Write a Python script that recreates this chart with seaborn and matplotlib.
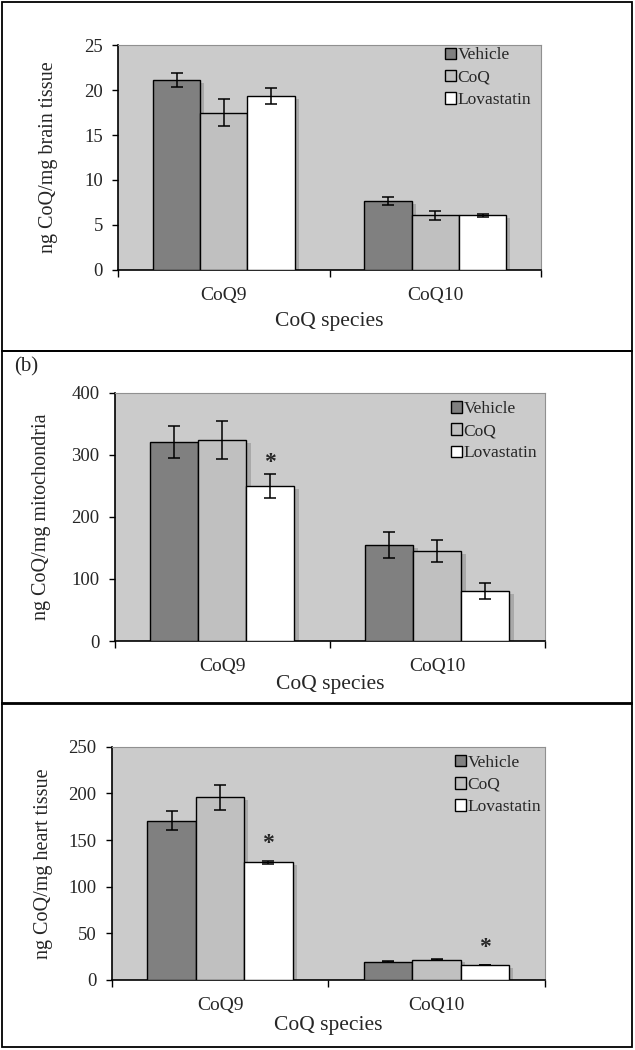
import numpy as np
import pandas as pd
import seaborn as sns
import matplotlib.pyplot as plt
from matplotlib.patches import Rectangle
from matplotlib.transforms import ScaledTranslation

# categories
species = ["CoQ9", "CoQ10"]
groups = ["Vehicle", "CoQ", "Lovastatin"]
colors = ["#808080", "#c0c0c0", "#ffffff"]

# rows: Vehicle, CoQ, Lovastatin ; columns: CoQ9, CoQ10
brain_mean = [[21.1, 7.65], [17.5, 6.05], [19.3, 6.05]]
brain_err = [[0.8, 0.4], [1.5, 0.5], [0.9, 0.15]]
brain_star = [[0, 0], [0, 0], [0, 0]]

mito_mean = [[321, 155], [324, 145], [250, 81]]
mito_err = [[26, 21], [30, 18], [19, 13]]
mito_star = [[0, 0], [0, 0], [1, 0]]

heart_mean = [[171, 19.7], [196, 21.9], [126, 16.1]]
heart_err = [[10, 0.4], [13.5, 1.0], [1.5, 0.4]]
heart_star = [[0, 0], [0, 0], [1, 1]]

sns.set_theme(style="white")
plt.rcParams['font.family'] = ['Liberation Serif', 'DejaVu Serif']

fig = plt.figure(figsize=(6.35, 10.5), dpi=100)

# data, label, y max, y step, axes rect, ylabel x, xlabel pad, legend anchor, star pad, tag
panels = [
    (brain_mean, brain_err, brain_star, "ng CoQ/mg brain tissue", 25, 5,
     [0.186, 0.743, 0.666, 0.214], -0.142, 6, (0.773, 0.99), 1, None),
    (mito_mean, mito_err, mito_star, "ng CoQ/mg mitochondria", 400, 100,
     [0.181, 0.3895, 0.677, 0.2365], -0.149, 0, (0.781, 0.967), 1, "(b)"),
    (heart_mean, heart_err, heart_star, "ng CoQ/mg heart tissue", 250, 50,
     [0.176, 0.0667, 0.682, 0.222], -0.136, 2, (0.792, 0.967), 5, None),
]

# boxes around each panel (figure fraction)
boxes = [(0.998, 0.666), (0.666, 0.330), (0.330, 0.003)]
for top, bot in boxes:
    fig.add_artist(Rectangle((0.003, bot), 0.992, top - bot, fill=False,
                             edgecolor="black", linewidth=1.3,
                             transform=fig.transFigure))

for mean, err, star, ylab, ymax, ystep, pos, ylx, xlp, leg_at, spad, tag in panels:
    ax = fig.add_axes(pos)
    rows = []
    for g, vals in zip(groups, mean):
        for s, v in zip(species, vals):
            rows.append({"species": s, "group": g, "value": v})
    df = pd.DataFrame(rows)

    sns.barplot(data=df, x="species", y="value", hue="group", order=species,
                hue_order=groups, palette=colors, width=0.67, errorbar=None,
                edgecolor="black", linewidth=1.0, saturation=1, legend=False,
                ax=ax, zorder=3)

    ax.set_facecolor("#cbcbcb")
    shadow = ax.transData + ScaledTranslation(3 / 72, -2 / 72, fig.dpi_scale_trans)
    bar_sets = list(ax.containers)
    for gi, cont in enumerate(bar_sets):
        for si, bar in enumerate(cont):
            x = bar.get_x() + bar.get_width() / 2
            h = bar.get_height()
            sh = Rectangle((bar.get_x(), 0), bar.get_width(), h,
                           facecolor="#a9a9a9", edgecolor="none", zorder=2,
                           transform=shadow)
            ax.add_patch(sh)
            ax.errorbar(x, h, yerr=err[gi][si], color="black", capsize=4,
                        elinewidth=1.1, capthick=1.1, zorder=4)
            if star[gi][si]:
                ax.annotate("*", (x, h + err[gi][si]), xytext=(0, spad),
                            textcoords="offset points", ha="center",
                            va="bottom", fontsize=17, fontweight="bold")

    ax.set_xlim(-0.5, 1.5)
    ax.set_ylim(0, ymax)
    ax.set_yticks(np.arange(0, ymax + 1, ystep))
    ax.set_xticks([0, 1])
    ax.set_xticklabels(species, fontsize=14)
    ax.set_xticks([-0.5, 0.5, 1.5], minor=True)
    ax.tick_params(axis="x", which="major", length=0, pad=12)
    ax.tick_params(axis="x", which="minor", length=5, width=1, direction="out",
                   color="black", bottom=True)
    ax.tick_params(axis="y", length=4, width=1, direction="out", color="black",
                   left=True, labelsize=13.5, pad=7)
    ax.set_xlabel("CoQ species", fontsize=15.5, labelpad=xlp)
    ax.set_ylabel(ylab, fontsize=14.5)
    ax.yaxis.set_label_coords(ylx, 0.5)
    for side in ["left", "bottom"]:
        ax.spines[side].set_color("black")
        ax.spines[side].set_linewidth(1.2)
    for side in ["top", "right"]:
        ax.spines[side].set_color("#909090")
        ax.spines[side].set_linewidth(0.8)

    handles = [Rectangle((0, 0), 1, 1, facecolor=c, edgecolor="black", linewidth=1)
               for c in colors]
    ax.legend(handles, groups, loc="upper left", bbox_to_anchor=leg_at,
              frameon=False, fontsize=12.5, handlelength=0.65, handleheight=0.65,
              handletextpad=0.08, labelspacing=0.36, borderaxespad=0,
              borderpad=0)

    if tag:
        fig.text(0.022, 1 - 367 / 1050, tag, fontsize=15, va="center", ha="left")

fig.savefig("out.png", dpi=100)
